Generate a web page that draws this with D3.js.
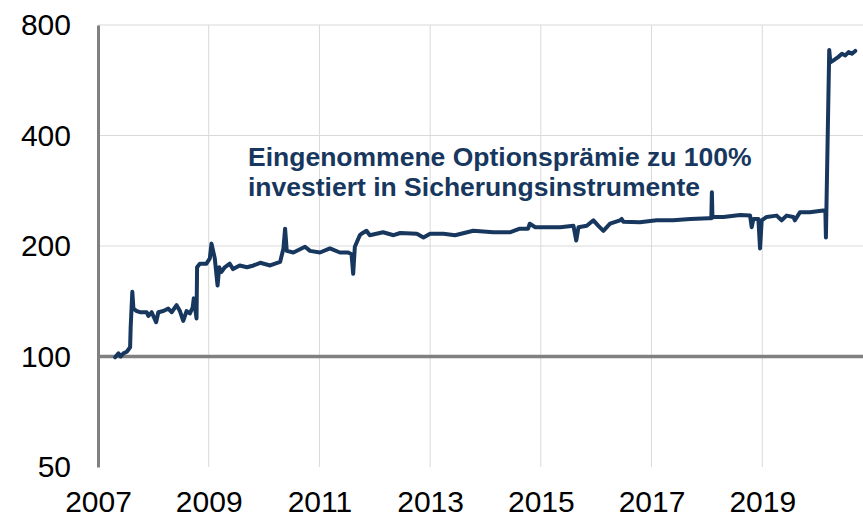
<!DOCTYPE html>
<html>
<head>
<meta charset="utf-8">
<script src="https://cdn.jsdelivr.net/npm/d3@7"></script>
<style>
  html, body { margin: 0; padding: 0; background: #fff; }
  svg { display: block; font-family: "Liberation Sans", Arial, sans-serif; }
</style>
</head>
<body>
<div id="container"></div>
<script>
	// dates as decimal years
	var years = [
		2007.31, 2007.37, 2007.41, 2007.46, 2007.52, 2007.58, 2007.59, 2007.62, 2007.64, 2007.70,
		2007.76, 2007.88, 2007.91, 2007.97, 2008.05, 2008.09, 2008.18, 2008.27, 2008.33, 2008.42,
		2008.48, 2008.54, 2008.60, 2008.66, 2008.71, 2008.73, 2008.78, 2008.79, 2008.84, 2008.96,
		2009.02, 2009.05, 2009.11, 2009.16, 2009.19, 2009.23, 2009.29, 2009.38, 2009.44, 2009.56,
		2009.69, 2009.81, 2009.93, 2010.11, 2010.29, 2010.35, 2010.38, 2010.41, 2010.53, 2010.74,
		2010.83, 2011.01, 2011.19, 2011.37, 2011.52, 2011.58, 2011.61, 2011.64, 2011.73, 2011.76,
		2011.85, 2011.91, 2012.15, 2012.34, 2012.46, 2012.76, 2012.88, 2013.00, 2013.24, 2013.45,
		2013.78, 2014.14, 2014.44, 2014.62, 2014.77, 2014.80, 2014.90, 2015.05, 2015.35, 2015.59,
		2015.64, 2015.68, 2015.83, 2015.95, 2016.04, 2016.13, 2016.25, 2016.43, 2016.46, 2016.49,
		2016.79, 2017.09, 2017.39, 2017.70, 2018.03, 2018.08, 2018.09, 2018.10, 2018.12, 2018.30,
		2018.60, 2018.78, 2018.81, 2018.84, 2018.93, 2018.96, 2018.99, 2019.08, 2019.26, 2019.35,
		2019.44, 2019.56, 2019.59, 2019.68, 2019.86, 2020.10, 2020.14, 2020.15, 2020.21, 2020.23,
		2020.28, 2020.37, 2020.44, 2020.50, 2020.56, 2020.62, 2020.68
	];
	var values = [
		99.5, 102, 100, 102, 103, 106, 120, 150, 135, 133,
		132, 132, 129, 132, 124, 132, 133, 135, 132, 138,
		133, 125, 133, 131, 136, 144, 127, 175, 179, 179,
		185, 203, 185, 156, 175, 170, 175, 179, 173, 177,
		175, 177, 180, 177, 181, 197, 223, 194, 192, 199,
		194, 192, 197, 192, 192, 190, 168, 199, 214, 216,
		220, 214, 218, 214, 217, 216, 211, 216, 216, 214,
		220, 218, 218, 223, 223, 230, 225, 225, 225, 227,
		207, 225, 227, 235, 227, 220, 230, 235, 237, 233,
		232, 235, 235, 237, 238, 238, 280, 239, 240, 240,
		243, 242, 225, 237, 237, 197, 235, 240, 242, 235,
		242, 240, 235, 247, 247, 250, 250, 211, 684, 633,
		640, 654, 668, 661, 675, 668, 680
	];
	var yTicks = [50, 100, 200, 400, 800];
	var xTicks = [2007, 2009, 2011, 2013, 2015, 2017, 2019];
	var gridY = [200, 400, 800];
	var noteLines = ["Eingenommene Optionsprämie zu 100%", "investiert in Sicherungsinstrumente"];

	var width = 863, height = 520;
	var plotLeft = 98, plotRight = 863, plotTop = 25, plotBottom = 467;
	var navy = "#17375e";

	var svg = d3.select('#container')
		.append('svg')
		.attr('width', width)
		.attr('height', height);

	var x = d3.scaleLinear().domain([2007, 2020.82]).range([plotLeft, plotRight]);
	var y = d3.scaleLog().domain([50, 800]).range([plotBottom, plotTop]);

	// vertical gridlines
	svg.append('g')
		.selectAll('line')
		.data(xTicks.slice(1))
		.enter().append('line')
		.attr('x1', function(d){ return x(d); })
		.attr('x2', function(d){ return x(d); })
		.attr('y1', plotTop)
		.attr('y2', plotBottom)
		.style('stroke', '#d9d9d9')
		.style('stroke-width', 1);

	// horizontal gridlines
	svg.append('g')
		.selectAll('line')
		.data(gridY)
		.enter().append('line')
		.attr('x1', plotLeft)
		.attr('x2', plotRight)
		.attr('y1', function(d){ return y(d); })
		.attr('y2', function(d){ return y(d); })
		.style('stroke', '#d9d9d9')
		.style('stroke-width', 1);

	// 100 base line
	svg.append('line')
		.attr('x1', plotLeft)
		.attr('x2', plotRight)
		.attr('y1', y(100))
		.attr('y2', y(100))
		.style('stroke', '#808080')
		.style('stroke-width', 3.5);

	// y axis
	var yAxis = d3.axisLeft(y).tickValues(yTicks).tickFormat(d3.format('d')).tickSize(0).tickPadding(27);
	var gy = svg.append('g')
		.attr('transform', 'translate(' + plotLeft + ',0)')
		.call(yAxis);
	gy.select('.domain').style('stroke', '#808080').style('stroke-width', 3);
	gy.selectAll('text')
		.style('font-size', '30px')
		.style('fill', '#000')
		.style('font-family', '"Liberation Sans", Arial, sans-serif');

	// x axis (labels only)
	var xAxis = d3.axisBottom(x).tickValues(xTicks).tickFormat(d3.format('d')).tickSize(0).tickPadding(24);
	var gx = svg.append('g')
		.attr('transform', 'translate(0,' + plotBottom + ')')
		.call(xAxis);
	gx.select('.domain').remove();
	gx.selectAll('text')
		.style('font-size', '30px')
		.style('fill', '#000')
		.style('font-family', '"Liberation Sans", Arial, sans-serif');

	// the series
	var points = years.map(function(d, i){ return [d, values[i]]; });
	var line = d3.line()
		.x(function(d){ return x(d[0]); })
		.y(function(d){ return y(d[1]); });

	svg.append('path')
		.datum(points)
		.attr('d', line)
		.style('fill', 'none')
		.style('stroke', navy)
		.style('stroke-width', 4)
		.style('stroke-linejoin', 'round')
		.style('stroke-linecap', 'round');

	// annotation
	svg.append('g')
		.selectAll('text')
		.data(noteLines)
		.enter().append('text')
		.text(function(d){ return d; })
		.attr('x', 248)
		.attr('y', function(d, i){ return 166 + i * 30; })
		.style('font-size', '26.5px')
		.style('font-weight', 'bold')
		.style('fill', navy);
</script>
</body>
</html>
